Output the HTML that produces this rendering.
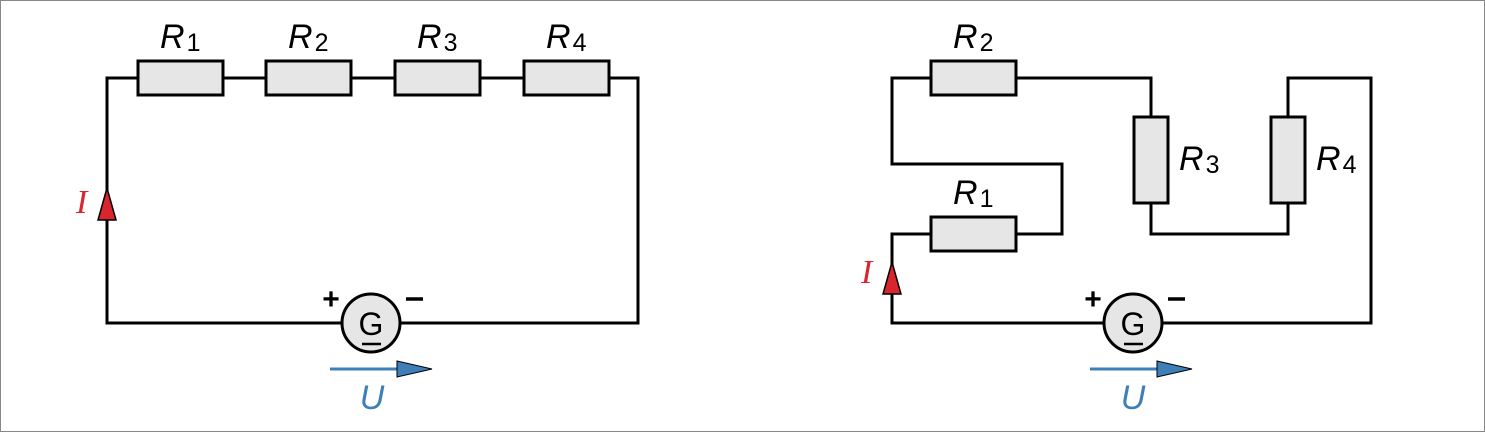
<!DOCTYPE html>
<html><head><meta charset="utf-8"><style>
html,body{margin:0;padding:0;background:#fff}
svg{display:block}
.w{stroke:#000;stroke-width:3;fill:none}
.r{stroke:#000;stroke-width:3;fill:#e6e6e6}
.lbl{font-family:"Liberation Sans",sans-serif;font-style:italic;font-size:34px;fill:#000}
.sub{font-family:"Liberation Sans",sans-serif;font-size:25px;fill:#000}
</style></head><body>
<svg width="1485" height="432" viewBox="0 0 1485 432">
<rect x="0.5" y="0.5" width="1484" height="431" fill="#fff" stroke="#888"/>

<g>
<polyline class="w" points="138,78 107,78 107,323 342,323"/>
<polyline class="w" points="400,323 638,323 638,78 609,78"/>
<line class="w" x1="223" y1="78" x2="266" y2="78"/>
<line class="w" x1="351" y1="78" x2="395" y2="78"/>
<line class="w" x1="480" y1="78" x2="524" y2="78"/>
<rect class="r" x="138" y="61" width="85" height="34"/>
<rect class="r" x="266" y="61" width="85" height="34"/>
<rect class="r" x="395" y="61" width="85" height="34"/>
<rect class="r" x="524" y="61" width="85" height="34"/>
<text class="lbl" x="160" y="48">R<tspan class="sub" font-style="normal" dx="2" dy="3">1</tspan></text>
<text class="lbl" x="288" y="48">R<tspan class="sub" font-style="normal" dx="2" dy="3">2</tspan></text>
<text class="lbl" x="417" y="48">R<tspan class="sub" font-style="normal" dx="2" dy="3">3</tspan></text>
<text class="lbl" x="546" y="48">R<tspan class="sub" font-style="normal" dx="2" dy="3">4</tspan></text>
<polygon points="107,188 98,220 116,220" fill="#d9262e" stroke="#000" stroke-width="1.5"/>
<text x="76" y="213" font-family="Liberation Serif,serif" font-style="italic" font-size="34" fill="#d9262e">I</text>
<g>
<circle cx="371" cy="323" r="29" fill="#e6e6e6" stroke="#000" stroke-width="3"/>
<text x="371" y="335" text-anchor="middle" font-family="Liberation Sans,sans-serif" font-size="32">G</text>
<line x1="362" y1="344" x2="381" y2="344" stroke="#000" stroke-width="2.5"/>
<text x="331" y="309" text-anchor="middle" font-family="Liberation Sans,sans-serif" font-size="30" font-weight="bold">+</text>
<line x1="406" y1="299" x2="423" y2="299" stroke="#000" stroke-width="3.5"/>
</g>
<g>
<line x1="330" y1="369" x2="400" y2="369" stroke="#3f7fb8" stroke-width="3"/>
<polygon points="397,361 432,369 397,377" fill="#3f7fb8" stroke="#000" stroke-width="1"/>
<text x="372" y="409" text-anchor="middle" font-family="Liberation Sans,sans-serif" font-style="italic" font-size="34" fill="#3f7fb8">U</text>
</g>
</g>

<g>
<polyline class="w" points="931,78 892,78 892,164 1062,164 1062,234 1016,234"/>
<polyline class="w" points="931,234 892,234 892,323 1104,323"/>
<polyline class="w" points="1016,78 1151,78 1151,117"/>
<polyline class="w" points="1151,203 1151,234 1288,234 1288,203"/>
<polyline class="w" points="1288,117 1288,78 1371,78 1371,323 1162,323"/>
<rect class="r" x="931" y="61" width="85" height="34"/>
<rect class="r" x="931" y="217" width="85" height="34"/>
<rect class="r" x="1134" y="117" width="34" height="86"/>
<rect class="r" x="1271" y="117" width="34" height="86"/>
<text class="lbl" x="953" y="48">R<tspan class="sub" font-style="normal" dx="2" dy="3">2</tspan></text>
<text class="lbl" x="953" y="204">R<tspan class="sub" font-style="normal" dx="2" dy="3">1</tspan></text>
<text class="lbl" x="1179" y="170">R<tspan class="sub" font-style="normal" dx="2" dy="3">3</tspan></text>
<text class="lbl" x="1316" y="170">R<tspan class="sub" font-style="normal" dx="2" dy="3">4</tspan></text>
<polygon points="892,262 883,294 901,294" fill="#d9262e" stroke="#000" stroke-width="1.5"/>
<text x="861" y="283" font-family="Liberation Serif,serif" font-style="italic" font-size="34" fill="#d9262e">I</text>
<g>
<circle cx="1133" cy="323" r="29" fill="#e6e6e6" stroke="#000" stroke-width="3"/>
<text x="1133" y="335" text-anchor="middle" font-family="Liberation Sans,sans-serif" font-size="32">G</text>
<line x1="1124" y1="344" x2="1143" y2="344" stroke="#000" stroke-width="2.5"/>
<text x="1093" y="309" text-anchor="middle" font-family="Liberation Sans,sans-serif" font-size="30" font-weight="bold">+</text>
<line x1="1168" y1="299" x2="1185" y2="299" stroke="#000" stroke-width="3.5"/>
</g>
<g>
<line x1="1090" y1="369" x2="1160" y2="369" stroke="#3f7fb8" stroke-width="3"/>
<polygon points="1157,361 1192,369 1157,377" fill="#3f7fb8" stroke="#000" stroke-width="1"/>
<text x="1133" y="409" text-anchor="middle" font-family="Liberation Sans,sans-serif" font-style="italic" font-size="34" fill="#3f7fb8">U</text>
</g>
</g>
</svg>
</body></html>
